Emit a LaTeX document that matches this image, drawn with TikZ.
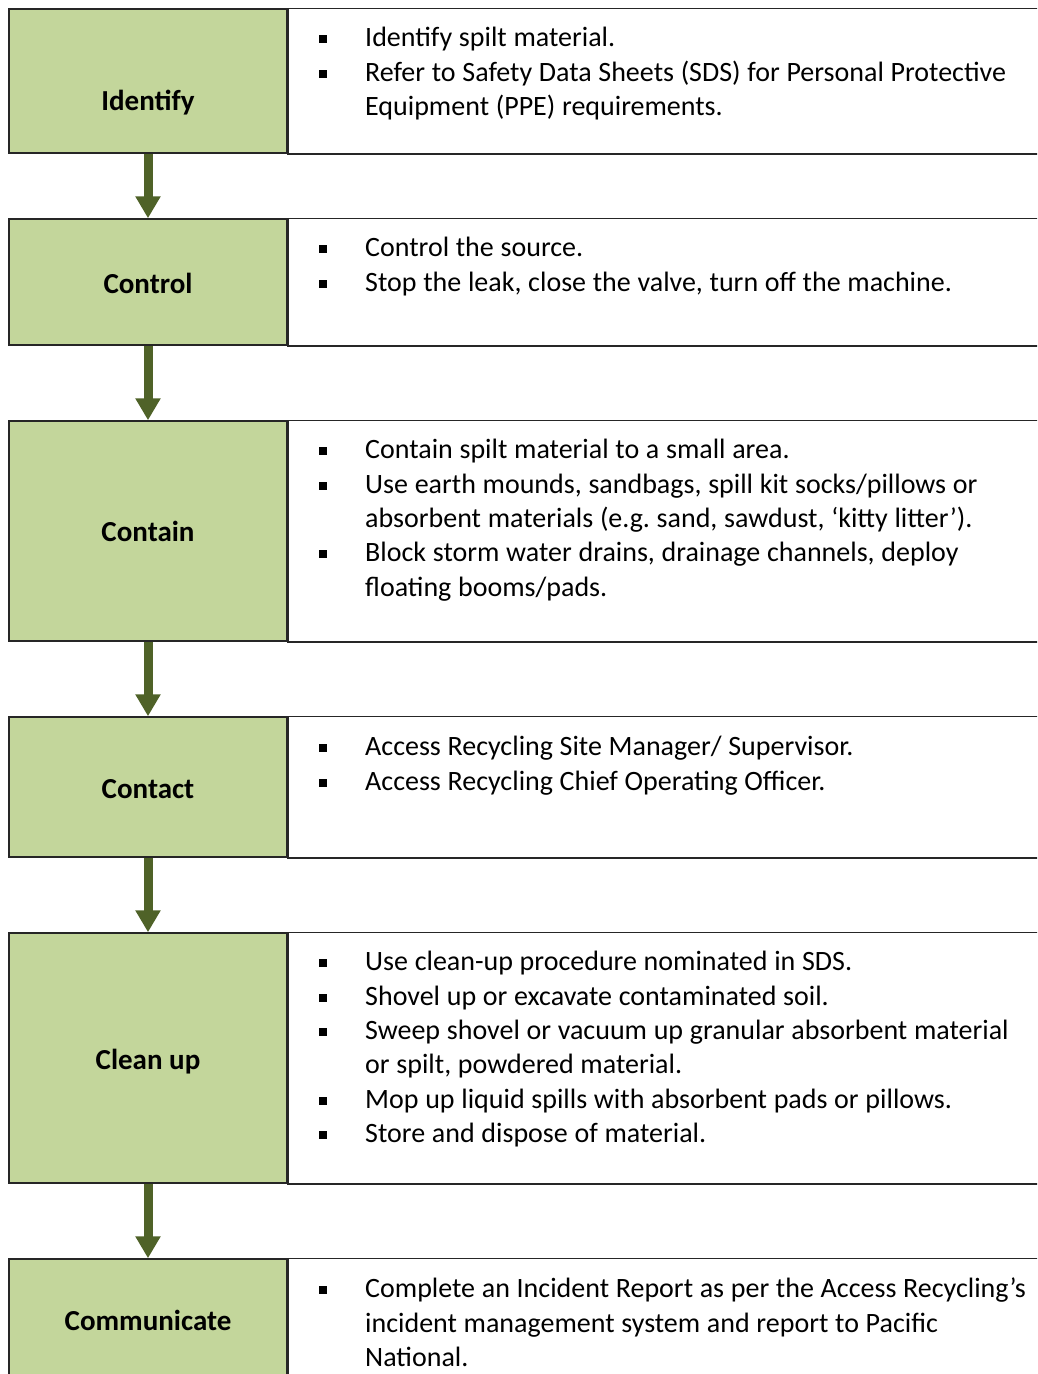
\documentclass[tikz,border=0pt]{standalone}
\usepackage{fontspec}
\setmainfont{Carlito}
\usetikzlibrary{arrows.meta}

\definecolor{stepgreen}{HTML}{C3D69B}
\definecolor{arrowgreen}{HTML}{4F6228}

% one bullet of a step's action list
\newcommand{\spillitem}[1]{\par\noindent\hangindent=48pt\hangafter=1%
  \makebox[48pt][l]{\hspace{2pt}\raisebox{3.5pt}{\rule{8pt}{8pt}}}\strut#1\par}

\begin{document}
\begin{tikzpicture}[
    x=1pt, y=-1pt,
    stepbox/.style={rectangle, draw=black!85, line width=1.5pt, fill=stepgreen, minimum width=278pt},
    rowbox/.style={draw=black!85, line width=1.5pt},
    steplabel/.style={font=\fontsize{29}{34.4}\selectfont\bfseries, text height=18pt, text depth=0pt, inner sep=0pt},
    stepnote/.style={anchor=north west, inner sep=0pt, text width=760pt, font=\fontsize{28}{34.4}\selectfont,
      execute at begin node={\raggedright\spaceskip=6.7pt plus 2pt minus 1pt\relax}},
    flow/.style={-{Triangle[width=24pt,length=22pt]}, line width=9pt, draw=arrowgreen},
]
\useasboundingbox (0,0) rectangle (1037,1374);
\clip (0,0) rectangle (1037,1374);

% Step boxes
\node[stepbox, minimum height=144pt] (identify) at (148,81) {};
\node[stepbox, minimum height=126pt] (control) at (148,282) {};
\node[stepbox, minimum height=220pt] (contain) at (148,531) {};
\node[stepbox, minimum height=140pt] (contact) at (148,787) {};
\node[stepbox, minimum height=250pt] (cleanup) at (148,1058) {};
\node[stepbox, minimum height=130pt] (communicate) at (148,1324) {};

% Action rows (run off the right edge)
\draw[rowbox] (identify.north east) rectangle ([xshift=780pt]identify.south east);
\draw[rowbox] (control.north east) rectangle ([xshift=780pt]control.south east);
\draw[rowbox] (contain.north east) rectangle ([xshift=780pt]contain.south east);
\draw[rowbox] (contact.north east) rectangle ([xshift=780pt]contact.south east);
\draw[rowbox] (cleanup.north east) rectangle ([xshift=780pt]cleanup.south east);
\draw[rowbox] (communicate.north east) rectangle ([xshift=780pt]communicate.south east);

% Step labels
\node[steplabel] (identifylabel) at (148,101) {Identify};
\node[steplabel] (controllabel) at (148,284) {Control};
\node[steplabel] (containlabel) at (148,532) {Contain};
\node[steplabel] (contactlabel) at (148,789) {Contact};
\node[steplabel] (cleanuplabel) at (148,1060) {Clean up};
\node[steplabel] (communicatelabel) at (148,1321) {Communicate};

% Actions
\node[stepnote] (identifynote) at (317,12) {%
  \spillitem{Identify spilt material.}
  \spillitem{Refer to Safety Data Sheets (SDS) for Personal Protective\newline Equipment (PPE) requirements.}};
\node[stepnote] (controlnote) at (317,222) {%
  \spillitem{Control the source.}
  \spillitem{Stop the leak, close the valve, turn off the machine.}};
\node[stepnote] (containnote) at (317,424) {%
  \spillitem{Contain spilt material to a small area.}
  \spillitem{Use earth mounds, sandbags, spill kit socks/pillows or\newline absorbent materials (e.g.\ sand, sawdust, ‘kitty litter’).}
  \spillitem{Block storm water drains, drainage channels, deploy\newline floating booms/pads.}};
\node[stepnote] (contactnote) at (317,721) {%
  \spillitem{Access Recycling Site Manager/ Supervisor.}
  \spillitem{Access Recycling Chief Operating Officer.}};
\node[stepnote] (cleanupnote) at (317,936) {%
  \spillitem{Use clean-up procedure nominated in SDS.}
  \spillitem{Shovel up or excavate contaminated soil.}
  \spillitem{Sweep shovel or vacuum up granular absorbent material\newline or spilt, powdered material.}
  \spillitem{Mop up liquid spills with absorbent pads or pillows.}
  \spillitem{Store and dispose of material.}};
\node[stepnote] (communicatenote) at (317,1263) {%
  \spillitem{Complete an Incident Report as per the Access Recycling’s\newline incident management system and report to Pacific\newline National.}};

% Flow arrows
\draw[flow] (identify) -- (control);
\draw[flow] (control) -- (contain);
\draw[flow] (contain) -- (contact);
\draw[flow] (contact) -- (cleanup);
\draw[flow] (cleanup) -- (communicate);

\end{tikzpicture}
\end{document}
